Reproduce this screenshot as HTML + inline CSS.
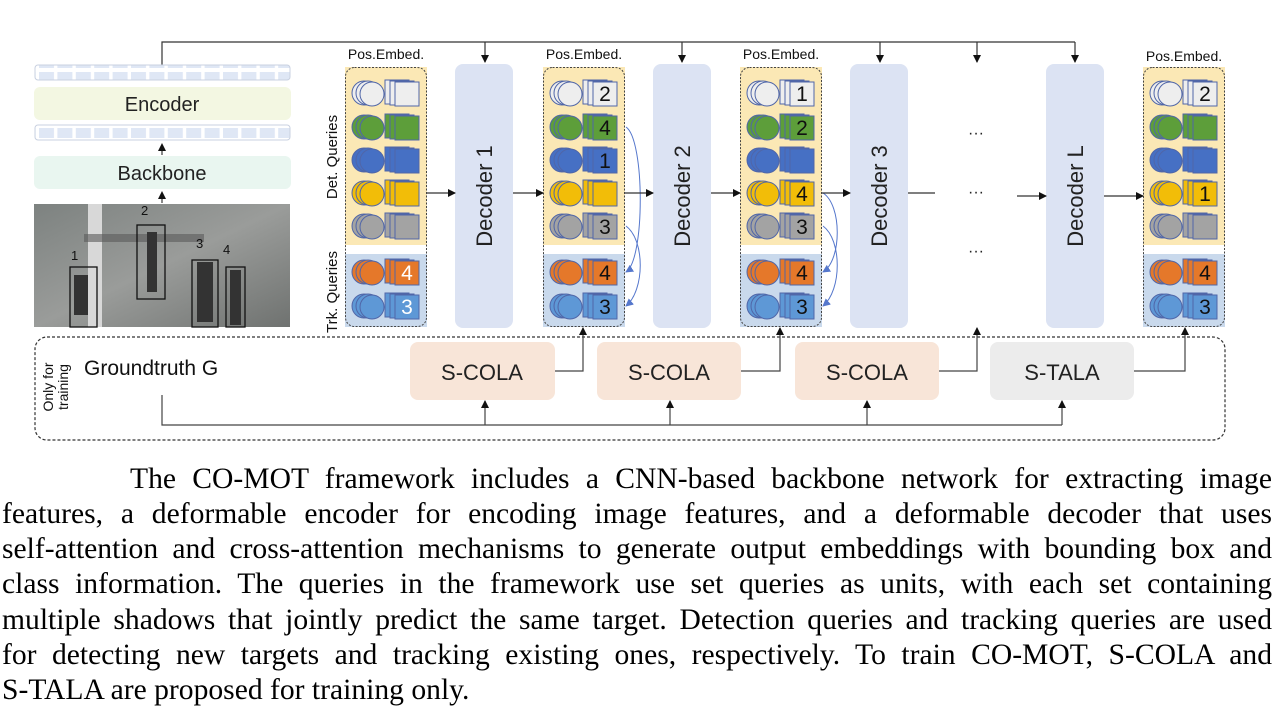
<!DOCTYPE html>
<html><head><meta charset="utf-8"><style>
body{margin:0;width:1282px;height:718px;background:#fff;position:relative;overflow:hidden;font-family:"Liberation Sans",sans-serif}
.cap{position:absolute;left:2px;width:1270px;font-family:"Liberation Serif",serif;font-size:29.6px;line-height:34px;color:#000;text-align:justify;text-align-last:justify;white-space:nowrap}
</style></head><body>
<svg width="1282" height="450" style="position:absolute;left:0;top:0" font-family="Liberation Sans, sans-serif">
<defs>
<marker id="a" markerWidth="8" markerHeight="8" refX="7" refY="4" orient="auto" markerUnits="userSpaceOnUse"><path d="M0,0 L8,4 L0,8z" fill="#111"/></marker>
<marker id="b" markerWidth="8" markerHeight="8" refX="7" refY="4" orient="auto" markerUnits="userSpaceOnUse"><path d="M0,0 L8,4 L0,8z" fill="#5577cc"/></marker>
<g id="q"><circle cx="19" cy="0" r="12" fill="currentColor" stroke="#5066a8" stroke-width="1"/><circle cx="23" cy="0" r="12" fill="currentColor" stroke="#5066a8" stroke-width="1"/><circle cx="27" cy="1" r="12" fill="currentColor" stroke="#5066a8" stroke-width="1"/>
<rect x="40" y="-13" width="24" height="24" fill="currentColor" stroke="#5066a8"/><rect x="45" y="-12" width="24" height="24" fill="currentColor" stroke="#5066a8"/><rect x="50" y="-11" width="24" height="24" fill="currentColor" stroke="#5066a8"/></g>
<g id="col"><rect x="0" y="0" width="82" height="178" fill="#fbe8b5"/><rect x="0" y="187" width="82" height="73" fill="#c9d9ec"/><rect x="0.5" y="0.5" width="81" height="259" rx="9" fill="none" stroke="#444" stroke-dasharray="2,1.5"/></g>
<pattern id="cells" width="18.4" height="14" patternUnits="userSpaceOnUse" x="38"><rect x="1" y="2" width="15" height="10" fill="#dfe7f5"/></pattern>
</defs>
<path d="M162,66 V42 H1075" fill="none" stroke="#333" stroke-width="1.2"/>
<g stroke="#333" stroke-width="1.2" marker-end="url(#a)">
<line x1="485" y1="42" x2="485" y2="62"/><line x1="682" y1="42" x2="682" y2="62"/><line x1="880" y1="42" x2="880" y2="62"/><line x1="977" y1="42" x2="977" y2="62"/><line x1="1075" y1="42" x2="1075" y2="62"/>
</g>
<rect x="35" y="65" width="255" height="15" rx="3" fill="url(#cells)" stroke="#c8d0e0"/>
<rect x="34" y="87" width="257" height="33" rx="6" fill="#f3f7e2"/>
<text x="162" y="111" font-size="20" text-anchor="middle" fill="#222">Encoder</text>
<rect x="35" y="125" width="255" height="15" rx="3" fill="url(#cells)" stroke="#c8d0e0"/>
<line x1="162" y1="155" x2="162" y2="144" stroke="#111" marker-end="url(#a)"/>
<rect x="34" y="156" width="257" height="33" rx="6" fill="#e9f6f0"/>
<text x="162" y="180" font-size="20" text-anchor="middle" fill="#222">Backbone</text>
<line x1="162" y1="203" x2="162" y2="192" stroke="#111" marker-end="url(#a)"/>
<defs><linearGradient id="im" x1="0" y1="0" x2="1" y2="1"><stop offset="0" stop-color="#7d8280"/><stop offset="0.5" stop-color="#9a9c9a"/><stop offset="1" stop-color="#6f7270"/></linearGradient></defs>
<rect x="34" y="204" width="256" height="123" fill="url(#im)"/>
<rect x="88" y="204" width="14" height="123" fill="#d8d8d8"/>
<rect x="84" y="234" width="120" height="8" fill="#5a5a5a" opacity="0.6"/>
<g fill="none" stroke="#111" stroke-width="1.3"><rect x="70" y="267" width="27" height="60"/><rect x="137" y="225" width="28" height="74"/><rect x="192" y="260" width="26" height="67"/><rect x="226" y="267" width="19" height="60"/></g>
<g fill="#333"><rect x="147" y="232" width="10" height="60"/><rect x="197" y="262" width="16" height="60"/><rect x="230" y="270" width="11" height="55"/><rect x="74" y="275" width="14" height="40"/></g>
<g font-size="13" fill="#111"><text x="71" y="260">1</text><text x="141" y="215">2</text><text x="196" y="248">3</text><text x="223" y="254">4</text></g>
<g font-size="14" fill="#111"><text x="386" y="59" text-anchor="middle">Pos.Embed.</text><text x="584" y="59" text-anchor="middle">Pos.Embed.</text><text x="781" y="59" text-anchor="middle">Pos.Embed.</text><text x="1184" y="61" text-anchor="middle">Pos.Embed.</text></g>
<g font-size="15" fill="#111"><text transform="translate(337,157) rotate(-90)" text-anchor="middle">Det. Queries</text><text transform="translate(337,292) rotate(-90)" text-anchor="middle">Trk. Queries</text></g>
<use href="#col" x="345" y="67"/><use href="#col" x="543" y="67"/><use href="#col" x="740" y="67"/><use href="#col" x="1143" y="67"/>
<g id="c1">
<use href="#q" x="345" y="93" color="#eeeeee"/><use href="#q" x="345" y="127" color="#5d9e3a"/><use href="#q" x="345" y="160" color="#4670c4"/><use href="#q" x="345" y="193" color="#f2bd08"/><use href="#q" x="345" y="226" color="#a3a3a3"/><use href="#q" x="345" y="272" color="#e5782a"/><use href="#q" x="345" y="306" color="#5e98d6"/></g>
<use href="#c1" x="198"/><use href="#c1" x="395"/><use href="#c1" x="798"/>
<g font-size="21" text-anchor="middle" fill="#111">
<text x="407" y="280" fill="#fff">4</text><text x="407" y="314" fill="#fff">3</text>
<text x="605" y="101">2</text><text x="605" y="135">4</text><text x="605" y="168">1</text><text x="605" y="234">3</text><text x="605" y="280">4</text><text x="605" y="314">3</text>
<text x="802" y="101">1</text><text x="802" y="135">2</text><text x="802" y="201">4</text><text x="802" y="234">3</text><text x="802" y="280">4</text><text x="802" y="314">3</text>
<text x="1205" y="101">2</text><text x="1205" y="201">1</text><text x="1205" y="280">4</text><text x="1205" y="314">3</text>
</g>
<g fill="none" stroke="#5577cc" stroke-width="1" marker-end="url(#b)">
<path d="M626,127 C645,140 645,260 626,272"/><path d="M626,226 C645,240 645,290 626,306"/>
<path d="M823,193 C842,205 842,260 823,272"/><path d="M823,226 C842,240 842,290 823,306"/>
</g>
<g fill="#dce3f3"><rect x="455" y="64" width="58" height="264" rx="8"/><rect x="653" y="64" width="58" height="264" rx="8"/><rect x="850" y="64" width="58" height="264" rx="8"/><rect x="1046" y="64" width="58" height="264" rx="8"/></g>
<g font-size="22" fill="#222" text-anchor="middle"><text transform="translate(492,196) rotate(-90)">Decoder 1</text><text transform="translate(690,196) rotate(-90)">Decoder 2</text><text transform="translate(887,196) rotate(-90)">Decoder 3</text><text transform="translate(1083,196) rotate(-90)">Decoder L</text></g>
<g font-size="16" fill="#222" text-anchor="middle"><text x="976" y="138">···</text><text x="976" y="197">···</text><text x="976" y="256">···</text></g>
<g stroke="#333" stroke-width="1.2" marker-end="url(#a)">
<line x1="427" y1="193" x2="455" y2="193"/><line x1="513" y1="193" x2="543" y2="193"/><line x1="625" y1="193" x2="653" y2="193"/><line x1="711" y1="193" x2="740" y2="193"/><line x1="822" y1="193" x2="850" y2="193"/><line x1="1017" y1="196" x2="1046" y2="196"/><line x1="1104" y1="196" x2="1143" y2="196"/>
</g>
<line x1="908" y1="193" x2="935" y2="193" stroke="#333" stroke-width="1.2"/>
<rect x="35" y="337" width="1190" height="103" rx="12" fill="none" stroke="#333" stroke-width="1.2" stroke-dasharray="3,2"/>
<g font-size="14" fill="#111" text-anchor="middle"><text transform="translate(53,387) rotate(-90)">Only for</text><text transform="translate(68,387) rotate(-90)">training</text></g>
<text x="84" y="375" font-size="21" fill="#111">Groundtruth G</text>
<g><rect x="410" y="342" width="145" height="58" rx="8" fill="#f8e5d8"/><rect x="597" y="342" width="144" height="58" rx="8" fill="#f8e5d8"/><rect x="795" y="342" width="144" height="58" rx="8" fill="#f8e5d8"/><rect x="990" y="342" width="144" height="58" rx="8" fill="#ececec"/></g>
<g font-size="22" fill="#222" text-anchor="middle"><text x="482" y="380">S-COLA</text><text x="669" y="380">S-COLA</text><text x="867" y="380">S-COLA</text><text x="1062" y="380">S-TALA</text></g>
<path d="M162,395 V425 H1062" fill="none" stroke="#444" stroke-width="1.2"/>
<g stroke="#444" stroke-width="1.2" marker-end="url(#a)" fill="none">
<line x1="485" y1="425" x2="485" y2="401"/><line x1="670" y1="425" x2="670" y2="401"/><line x1="867" y1="425" x2="867" y2="401"/><line x1="1062" y1="425" x2="1062" y2="401"/>
<path d="M555,371 H583 V328"/><path d="M741,371 H780 V328"/><path d="M939,371 H977 V328"/><path d="M1134,371 H1185 V328"/>
</g>
</svg>
<div class="cap" style="top:462px;padding-left:128px;width:1142px">The CO-MOT framework includes a CNN-based backbone network for extracting image</div>
<div class="cap" style="top:497px">features, a deformable encoder for encoding image features, and a deformable decoder that uses</div>
<div class="cap" style="top:532px">self-attention and cross-attention mechanisms to generate output embeddings with bounding box and</div>
<div class="cap" style="top:567px">class information. The queries in the framework use set queries as units, with each set containing</div>
<div class="cap" style="top:603px">multiple shadows that jointly predict the same target. Detection queries and tracking queries are used</div>
<div class="cap" style="top:638px">for detecting new targets and tracking existing ones, respectively. To train CO-MOT, S-COLA and</div>
<div class="cap" style="top:673px;text-align-last:left">S-TALA are proposed for training only.</div>
</body></html>
